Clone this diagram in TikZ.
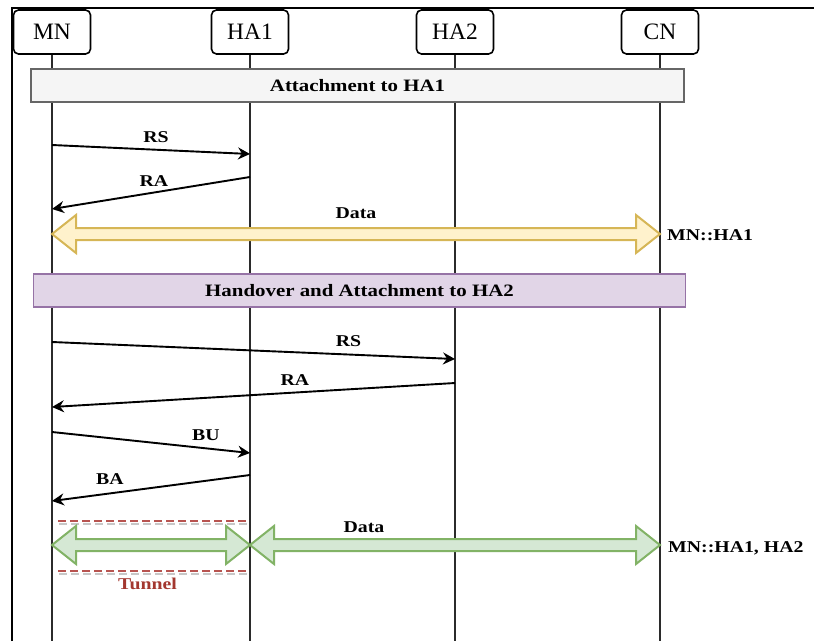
\documentclass[tikz,border=0pt]{standalone}
\usepackage{fontspec}
\setmainfont{Liberation Serif}
\newfontfamily\lblfont{Liberation Serif}[FakeStretch=1.2]
\usetikzlibrary{arrows.meta}

\definecolor{boxgrayfill}{HTML}{F5F5F5}
\definecolor{boxgraydraw}{HTML}{666666}
\definecolor{purplefill}{HTML}{E1D5E7}
\definecolor{purpledraw}{HTML}{9673A6}
\definecolor{yellowfill}{HTML}{FFF2CC}
\definecolor{yellowdraw}{HTML}{D6B656}
\definecolor{greenfill}{HTML}{D5E8D4}
\definecolor{greendraw}{HTML}{82B366}
\definecolor{tunnelred}{HTML}{B85450}
\definecolor{tunneltext}{HTML}{A3372F}
\definecolor{lifegray}{HTML}{2B2B2B}

% flat double-headed arrow: x1, x2, y, style
\newcommand\fatarrow[4]{%
  \draw[#4] (#1,#3) -- ({#1+24},{#3-19}) -- ({#1+24},{#3-6})
    -- ({#2-24},{#3-6}) -- ({#2-24},{#3-19}) -- (#2,#3)
    -- ({#2-24},{#3+19}) -- ({#2-24},{#3+6}) -- ({#1+24},{#3+6})
    -- ({#1+24},{#3+19}) -- cycle;}

\tikzset{
  head/.style={draw, line width=1.6pt, rounded corners=5pt, fill=white,
    minimum width=77pt, minimum height=44pt, inner sep=0pt,
    font=\fontsize{23.5}{26}\selectfont},
  life/.style={draw=lifegray, line width=1.8pt},
  msg/.style={draw=black, line width=1.9pt,
    -{Stealth[length=12pt, width=12pt, inset=4pt]}},
  lbl/.style={inner sep=0pt, font=\lblfont\bfseries\fontsize{16.5}{18}\selectfont},
  phase/.style={line width=1.8pt, inner sep=0pt,
    font=\lblfont\bfseries\fontsize{17.4}{19}\selectfont},
  yellowarrow/.style={draw=yellowdraw, fill=yellowfill, line width=2pt},
  greenarrow/.style={draw=greendraw, fill=greenfill, line width=2pt},
  tunnelline/.style={draw=tunnelred, line width=2pt, dash pattern=on 8pt off 4pt},
  tunnelshade/.style={draw=black!22, line width=2pt, dash pattern=on 8pt off 4pt}
}

\begin{document}
\begin{tikzpicture}[x=1pt, y=-1pt]
\useasboundingbox (0,0) rectangle (814,641);

% outer frame (left and top edges)
\draw[line width=2.2pt] (12,641) -- (12,8) -- (814,8);

% participants
\node[head] (MN)  at (52,32)  {MN};
\node[head] (HA1) at (250,32) {HA1};
\node[head] (HA2) at (455,32) {HA2};
\node[head] (CN)  at (660,32) {CN};

% lifelines
\foreach \p in {MN,HA1,HA2,CN}
  \draw[life] (\p.south) -- (\p.south |- 0,641);

% phase 1
\node[phase, draw=boxgraydraw, fill=boxgrayfill, minimum width=653pt, minimum height=33pt]
  (att1) at (357.5,85.5) {Attachment to HA1};

\draw[msg] (MN |- 0,145) -- (HA1 |- 0,154);
\node[lbl] (lrs1) at (156,137) {RS};
\draw[msg] (HA1 |- 0,177) -- (MN |- 0,209);
\node[lbl] (lra1) at (154,181) {RA};

\fatarrow{52}{660}{234}{yellowarrow}
\node[lbl] (ldata1) at (356,213) {Data};
\node[lbl, anchor=west] (bind1) at (667,235) {MN::HA1};

% phase 2
\node[phase, draw=purpledraw, fill=purplefill, minimum width=652pt, minimum height=33pt]
  (att2) at (359.5,290.5) {Handover and Attachment to HA2};

\draw[msg] (MN |- 0,342) -- (HA2 |- 0,359);
\node[lbl] (lrs2) at (348.5,341.5) {RS};
\draw[msg] (HA2 |- 0,383) -- (MN |- 0,407);
\node[lbl] (lra2) at (295,380.5) {RA};

\draw[msg] (MN |- 0,432) -- (HA1 |- 0,453);
\node[lbl] (lbu) at (206,435.5) {BU};
\draw[msg] (HA1 |- 0,475) -- (MN |- 0,501);
\node[lbl] (lba) at (110,479.5) {BA};

% tunnel between MN and HA1
\draw[tunnelshade] (59,523.5) -- (249,523.5);
\draw[tunnelline]  (58,521) -- (248,521);
\draw[tunnelshade] (59,573.5) -- (249,573.5);
\draw[tunnelline]  (58,571) -- (248,571);
\node[lbl, text=tunneltext] (ltun) at (147.5,583.5) {Tunnel};

\fatarrow{52}{250}{545}{greenarrow}
\fatarrow{250}{660}{545}{greenarrow}
\node[lbl] (ldata2) at (364,527) {Data};
\node[lbl, anchor=west] (bind2) at (668,548) {MN::HA1, HA2};
\end{tikzpicture}
\end{document}
